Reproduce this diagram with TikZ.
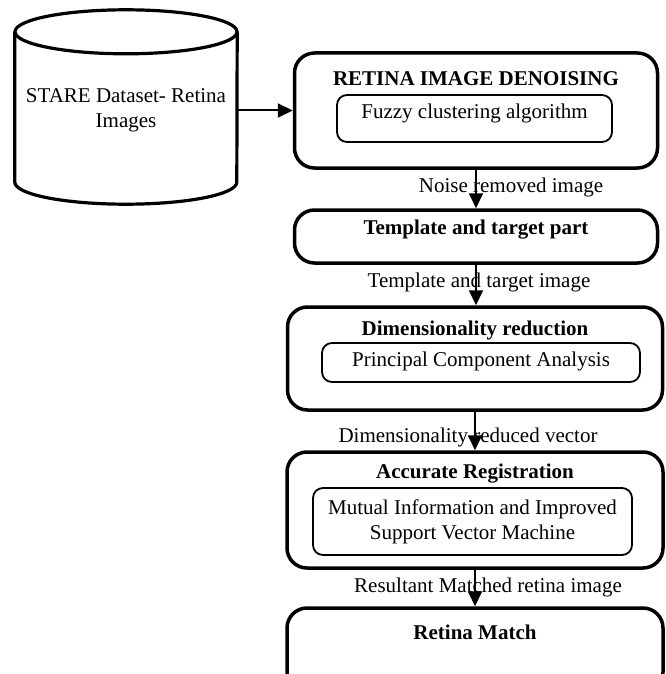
\documentclass[tikz,border=0pt]{standalone}
\usepackage{fontspec}
\setmainfont{Liberation Serif}
\usetikzlibrary{arrows.meta,positioning,calc}
\newcommand{\bodyfont}{\fontsize{21}{25}\selectfont}

\begin{document}
\begin{tikzpicture}[x=1pt,y=-1pt,
  every node/.style={font=\bodyfont, inner sep=0pt},
  outerbox/.style={draw, line width=3.5pt, rounded corners=20pt},
  innerbox/.style={draw, line width=1.8pt, rounded corners=10pt, align=center},
  boxtitle/.style={font=\bodyfont\bfseries},
  flow/.style={-{Triangle[length=15pt,width=14pt]}, line width=2pt}]
\useasboundingbox (0,0) rectangle (665,674);
% Dataset cylinder
\node[minimum width=222pt, minimum height=194pt] (stare) at (126,107) {};
\node[align=center] (staret) at (126,110) {STARE Dataset- Retina\\Images};
\draw[line width=3.2pt] ($(stare.north)+(0,22)$) ellipse [x radius=111pt, y radius=22pt];
\draw[line width=3.2pt] ($(stare.north west)+(0,22)$) -- ($(stare.south west)-(0,22)$)
  arc[start angle=180, end angle=360, x radius=111pt, y radius=22pt] -- ($(stare.north east)+(0,22)$);
% Denoising stage
\node[outerbox, minimum width=363pt, minimum height=115pt] (denoise) at (476,110.5) {};
\node[boxtitle] (denoiset) at (476,79) {RETINA IMAGE DENOISING};
\node[innerbox, minimum width=275pt, minimum height=47pt, text depth=14pt] (fuzzy) at (474.5,118.5) {Fuzzy clustering algorithm};
% Template stage
\node[outerbox, minimum width=363pt, minimum height=53pt] (tmpl) at (476,236.5) {};
\node[boxtitle] (tmplt) at (476,230) {Template and target part};
% Dimensionality stage
\node[outerbox, minimum width=375pt, minimum height=103pt] (dimred) at (475,358.5) {};
\node[boxtitle] (dimredt) at (475,330) {Dimensionality reduction};
\node[innerbox, minimum width=318pt, minimum height=39pt, text depth=6pt] (pca) at (481,362.5) {Principal Component Analysis};
% Registration stage
\node[outerbox, minimum width=376pt, minimum height=116pt] (accreg) at (475,510) {};
\node[boxtitle] (accregt) at (475,474) {Accurate Registration};
\node[innerbox, minimum width=319pt, minimum height=67pt] (mi) at (472.5,521.5) {Mutual Information and Improved\\Support Vector Machine};
% Match stage (cut by page edge)
\node[outerbox, minimum width=376pt, minimum height=84pt] (match) at (475,650) {};
\node[boxtitle] (matcht) at (475,632) {Retina Match};
% Connector labels
\node (lnoise) at (511,187) {Noise removed image};
\node (ltmpl) at (479,282) {Template and target image};
\node (ldim) at (468,437) {Dimensionality reduced vector};
\node (lres) at (488,587) {Resultant Matched retina image};
% Connectors
\draw[flow] (stare.east |- denoise.west) -- (denoise.west);
\draw[flow] (denoise.south) -- (tmpl.north);
\draw[flow] (tmpl.south) -- (tmpl.south |- dimred.north);
\draw[flow] (dimred.south) -- (accreg.north);
\draw[flow] (accreg.south) -- (match.north);
\end{tikzpicture}
\end{document}
